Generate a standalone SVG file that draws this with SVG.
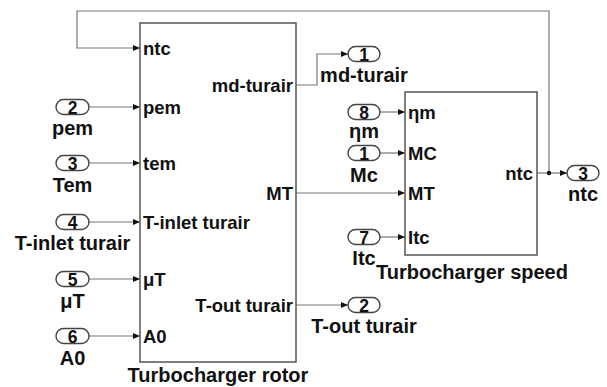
<svg xmlns="http://www.w3.org/2000/svg" width="607" height="387" viewBox="0 0 607 387">
<defs>
<marker id="ar" markerWidth="8" markerHeight="8" refX="7" refY="4" orient="auto" markerUnits="userSpaceOnUse">
<path d="M0,1 L7,4 L0,7 Z" fill="#111"/>
</marker>
<style>
.blk{fill:#fff;stroke:#555;stroke-width:1.5}
.ov{fill:#fff;stroke:#444;stroke-width:1.4}
.ln{fill:none;stroke:#777;stroke-width:1.2;marker-end:url(#ar)}
text{font-family:"Liberation Sans",Arial,sans-serif;font-weight:bold;fill:#111}
.pl{font-size:18.5px}
.lb{font-size:20px;text-anchor:middle}
.dg{font-size:17.5px;text-anchor:middle}
.r{text-anchor:end}
</style>
</defs>
<rect width="607" height="387" fill="#fff"/>
<g id="connectors">
<path class="ln" d="M549,173 V11 H77 V48 H140"/>
<path class="ln" d="M89,107 H140"/>
<path class="ln" d="M89,163 H140"/>
<path class="ln" d="M89,222 H140"/>
<path class="ln" d="M89,279 H140"/>
<path class="ln" d="M89,336 H140"/>
<path class="ln" d="M296,85 H317 V54 H348"/>
<path class="ln" d="M296,193 H405"/>
<path class="ln" d="M296,305 H348"/>
<path class="ln" d="M380,112 H405"/>
<path class="ln" d="M380,153 H405"/>
<path class="ln" d="M380,237 H405"/>
<path class="ln" d="M537,173 H567"/>
<circle cx="549" cy="173" r="2.2" fill="#111"/>
</g>
<g id="rotor">
<rect class="blk" x="140" y="23" width="156" height="339"/>
<text class="pl" x="143" y="55">ntc</text>
<text class="pl" x="143" y="114">pem</text>
<text class="pl" x="143" y="170">tem</text>
<text class="pl" x="143" y="229">T-inlet turair</text>
<text class="pl" x="143" y="286">μT</text>
<text class="pl" x="143" y="343">A0</text>
<text class="pl r" x="293" y="92">md-turair</text>
<text class="pl r" x="293" y="200">MT</text>
<text class="pl r" x="293" y="312">T-out turair</text>
<text class="lb" x="218" y="382">Turbocharger rotor</text>
</g>
<g id="speed">
<rect class="blk" x="405" y="92" width="132" height="163"/>
<text class="pl" x="408" y="119">ηm</text>
<text class="pl" x="408" y="160">MC</text>
<text class="pl" x="408" y="200">MT</text>
<text class="pl" x="408" y="244">Itc</text>
<text class="pl r" x="533" y="180">ntc</text>
<text class="lb" x="472" y="279">Turbocharger speed</text>
</g>
<g id="in2"><rect class="ov" x="56" y="99.5" width="33" height="15" rx="7.5"/><text class="dg" x="72.5" y="113.5">2</text><text class="lb" x="72.5" y="135">pem</text></g>
<g id="in3"><rect class="ov" x="56" y="155.5" width="33" height="15" rx="7.5"/><text class="dg" x="72.5" y="169.5">3</text><text class="lb" x="72.5" y="192">Tem</text></g>
<g id="in4"><rect class="ov" x="56" y="214.5" width="33" height="15" rx="7.5"/><text class="dg" x="72.5" y="228.5">4</text><text class="lb" x="72.5" y="250">T-inlet turair</text></g>
<g id="in5"><rect class="ov" x="56" y="271.5" width="33" height="15" rx="7.5"/><text class="dg" x="72.5" y="285.5">5</text><text class="lb" x="72.5" y="308">μT</text></g>
<g id="in6"><rect class="ov" x="56" y="328.5" width="33" height="15" rx="7.5"/><text class="dg" x="72.5" y="342.5">6</text><text class="lb" x="72.5" y="365">A0</text></g>
<g id="in8"><rect class="ov" x="348" y="104.5" width="32" height="15" rx="7.5"/><text class="dg" x="364" y="118.5">8</text><text class="lb" x="364" y="138">ηm</text></g>
<g id="in1"><rect class="ov" x="348" y="145.5" width="32" height="15" rx="7.5"/><text class="dg" x="364" y="159.5">1</text><text class="lb" x="364" y="182">Mc</text></g>
<g id="in7"><rect class="ov" x="348" y="229.5" width="32" height="15" rx="7.5"/><text class="dg" x="364" y="243.5">7</text><text class="lb" x="364" y="265">Itc</text></g>
<g id="out1"><rect class="ov" x="348" y="46.5" width="32" height="15" rx="7.5"/><text class="dg" x="364" y="60.5">1</text><text class="lb" x="364" y="82">md-turair</text></g>
<g id="out2"><rect class="ov" x="348" y="297.5" width="32" height="15" rx="7.5"/><text class="dg" x="364" y="311.5">2</text><text class="lb" x="364" y="333">T-out turair</text></g>
<g id="out3"><rect class="ov" x="567" y="165.5" width="32" height="15" rx="7.5"/><text class="dg" x="583" y="179.5">3</text><text class="lb" x="583" y="201">ntc</text></g>
</svg>
